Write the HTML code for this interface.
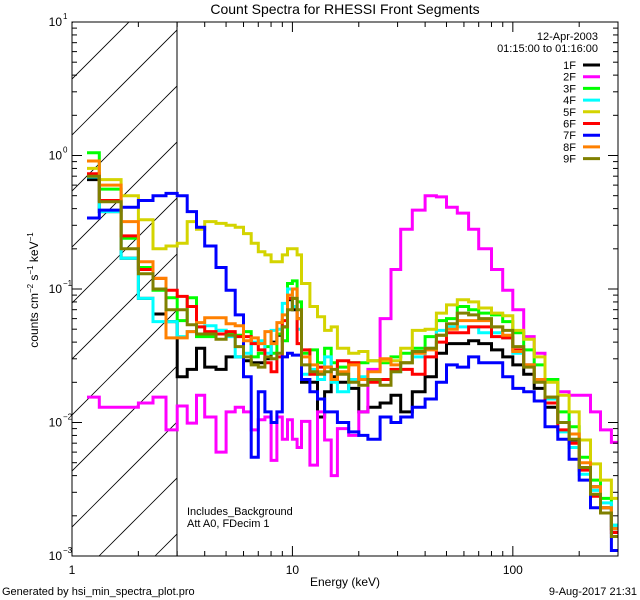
<!DOCTYPE html>
<html><head><meta charset="utf-8"><style>
html,body{margin:0;padding:0;background:#fff;}
svg{display:block;font-family:"Liberation Sans",sans-serif;}
</style></head><body>
<svg id="chart" width="640" height="600" viewBox="0 0 640 600" xmlns="http://www.w3.org/2000/svg">
<defs><clipPath id="hclip"><rect x="72" y="22" width="105" height="534"/></clipPath>
<clipPath id="pclip"><rect x="72" y="22" width="546" height="534"/></clipPath></defs>
<rect width="640" height="600" fill="#fff"/>
<text x="345" y="14" font-size="14" text-anchor="middle">Count Spectra for RHESSI Front Segments</text>
<g id="hatch" clip-path="url(#hclip)"></g>
<line x1="177" y1="22" x2="177" y2="556" stroke="#000" stroke-width="1"/>
<g id="series" clip-path="url(#pclip)"></g>
<rect x="72" y="22" width="546" height="534" fill="none" stroke="#000" stroke-width="1"/>
<g id="axes"></g>
<text x="598" y="40" font-size="11" text-anchor="end">12-Apr-2003</text>
<text x="598" y="52" font-size="11" text-anchor="end">01:15:00 to 01:16:00</text>
<g id="legend"></g>
<text x="187" y="515" font-size="11">Includes_Background</text>
<text x="187" y="527" font-size="11">Att A0, FDecim 1</text>
<text x="345" y="586" font-size="12" text-anchor="middle">Energy (keV)</text>
<text transform="translate(38,290) rotate(-90)" font-size="12" text-anchor="middle">counts cm<tspan font-size="8" dy="-5">−2</tspan><tspan dy="5"> s</tspan><tspan font-size="8" dy="-5">−1</tspan><tspan dy="5"> keV</tspan><tspan font-size="8" dy="-5">−1</tspan></text>
<text x="2" y="595" font-size="11">Generated by hsi_min_spectra_plot.pro</text>
<text x="637" y="595" font-size="11" text-anchor="end">9-Aug-2017 21:31</text>
</svg>
<script>
const edges=[1.17,1.33,1.67,2,2.33,2.67,3,3.33,3.67,4,4.5,5,5.5,6,6.5,7,7.5,8,8.5,9,9.5,10,10.5,11,12,13,14,15,16,18,20,22,25,28,31,35,40,45,50,56,63,70,80,90,100,112,125,140,160,180,200,225,250,280,300];
const seriesNames=["1F","2F","3F","4F","5F","6F","7F","8F","9F"];
const s1F=[0.66,0.38,0.17,0.085,0.065,0.057,0.022,0.025,0.036,0.026,0.025,0.031,0.031,0.029,0.028,0.028,0.03,0.04,0.045,0.052,0.083,0.07,0.06,0.02,0.02,0.011,0.017,0.022,0.02,0.018,0.012,0.013,0.014,0.016,0.012,0.017,0.022,0.033,0.039,0.039,0.041,0.039,0.035,0.031,0.027,0.023,0.018,0.013,0.010,0.0074,0.0046,0.0033,0.0023,0.0016];
const s2F=[0.0155,0.013,0.013,0.014,0.0155,0.0088,0.0133,0.0099,0.016,0.011,0.006,0.012,0.013,0.012,0.0088,0.0105,0.011,0.0052,0.011,0.0075,0.0105,0.0075,0.0065,0.0102,0.0048,0.012,0.0074,0.004,0.009,0.008,0.012,0.025,0.06,0.14,0.28,0.39,0.5,0.49,0.41,0.37,0.28,0.2,0.14,0.098,0.07,0.044,0.033,0.021,0.017,0.016,0.016,0.012,0.0088,0.0071];
const s3F=[1.05,0.56,0.24,0.145,0.098,0.086,0.058,0.086,0.044,0.044,0.049,0.046,0.045,0.048,0.031,0.033,0.037,0.033,0.046,0.041,0.11,0.115,0.08,0.033,0.035,0.028,0.036,0.028,0.026,0.028,0.028,0.029,0.028,0.031,0.033,0.036,0.044,0.058,0.06,0.074,0.07,0.066,0.064,0.057,0.047,0.035,0.027,0.021,0.012,0.0093,0.0055,0.0037,0.0027,0.0017];
const s4F=[0.69,0.38,0.17,0.085,0.057,0.057,0.044,0.048,0.052,0.053,0.049,0.044,0.031,0.033,0.04,0.041,0.033,0.049,0.05,0.078,0.10,0.074,0.05,0.023,0.025,0.021,0.031,0.02,0.017,0.021,0.022,0.021,0.021,0.024,0.028,0.031,0.036,0.049,0.052,0.052,0.052,0.047,0.047,0.043,0.033,0.027,0.021,0.015,0.0085,0.0065,0.0041,0.0031,0.0025,0.0017];
const s5F=[0.8,0.66,0.5,0.33,0.2,0.21,0.22,0.32,0.28,0.32,0.31,0.3,0.29,0.26,0.22,0.19,0.18,0.16,0.16,0.18,0.2,0.2,0.18,0.11,0.074,0.062,0.049,0.052,0.036,0.033,0.034,0.029,0.029,0.029,0.036,0.049,0.05,0.066,0.076,0.083,0.08,0.072,0.066,0.063,0.049,0.042,0.031,0.02,0.016,0.012,0.0074,0.0049,0.0037,0.0027];
const s6F=[0.73,0.46,0.25,0.14,0.12,0.098,0.088,0.074,0.052,0.048,0.046,0.048,0.044,0.044,0.039,0.035,0.028,0.024,0.031,0.058,0.085,0.085,0.039,0.035,0.023,0.026,0.026,0.021,0.029,0.028,0.021,0.02,0.021,0.025,0.025,0.023,0.031,0.04,0.047,0.047,0.052,0.052,0.044,0.043,0.035,0.027,0.021,0.014,0.0088,0.007,0.0044,0.0028,0.0021,0.0015];
const s7F=[0.34,0.39,0.41,0.46,0.5,0.52,0.5,0.38,0.29,0.21,0.145,0.098,0.064,0.022,0.0055,0.017,0.012,0.01,0.012,0.031,0.033,0.032,0.032,0.021,0.017,0.015,0.012,0.012,0.01,0.0085,0.008,0.0075,0.011,0.01,0.011,0.013,0.015,0.02,0.027,0.026,0.031,0.028,0.028,0.022,0.018,0.017,0.0145,0.0093,0.0075,0.0053,0.0037,0.0023,0.0021,0.0011];
const s8F=[0.91,0.6,0.32,0.16,0.12,0.043,0.043,0.048,0.056,0.061,0.061,0.055,0.053,0.041,0.043,0.039,0.048,0.039,0.056,0.064,0.09,0.1,0.06,0.031,0.027,0.024,0.026,0.021,0.024,0.027,0.021,0.024,0.03,0.027,0.028,0.033,0.035,0.045,0.05,0.058,0.058,0.058,0.052,0.045,0.034,0.027,0.021,0.0155,0.01,0.0082,0.005,0.0033,0.0023,0.0016];
const s9F=[0.7,0.45,0.2,0.13,0.1,0.07,0.07,0.054,0.046,0.046,0.042,0.045,0.037,0.031,0.027,0.026,0.031,0.03,0.033,0.052,0.07,0.085,0.07,0.027,0.024,0.023,0.024,0.025,0.023,0.02,0.019,0.021,0.019,0.024,0.028,0.034,0.036,0.045,0.055,0.066,0.064,0.06,0.052,0.049,0.037,0.026,0.02,0.0155,0.01,0.0075,0.0046,0.0029,0.0021,0.0014];
const seriesValues=[s1F,s2F,s3F,s4F,s5F,s6F,s7F,s8F,s9F];
const seriesColors=["#000000","#ff00ff","#00ff00","#00ffff","#d4d400","#ff0000","#0000ff","#ff8000","#808000"];
const xTickLabels=["1","10","100"];
const yTickLabels=["-3","-2","-1","0","1"];

const NS="http://www.w3.org/2000/svg";
const X0=72,X1=618,Y0=556,Y1=22,XMIN=1,XMAX=300,YMIN=-3,YMAX=1;
function xs(e){return X0+(Math.log10(e)-Math.log10(XMIN))/(Math.log10(XMAX)-Math.log10(XMIN))*(X1-X0);}
function ys(v){return Y0-(Math.log10(v)-YMIN)/(YMAX-YMIN)*(Y0-Y1);}
function mk(tag,attrs,parent){const el=document.createElementNS(NS,tag);for(const k in attrs)el.setAttribute(k,attrs[k]);parent.appendChild(el);return el;}

// hatch
const hatch=document.getElementById('hatch');
for(let i=-12;i<12;i++){
  const bx=99+i*56;
  const ln=mk('line',{x1:bx,y1:556,x2:bx+534,y2:22,stroke:'#000','stroke-width':0.8},hatch);
  
  
}

// axes ticks
const axes=document.getElementById('axes');
for(let d=0;d<3;d++){for(let m=1;m<10;m++){
  const e=Math.pow(10,d)*m; if(e>XMAX)break;
  const x=xs(e), L=(m===1)?10:5;
  const t1=mk('line',{x1:x,y1:556,x2:x,y2:556-L,stroke:'#000'},axes);
  
  
  const t2=mk('line',{x1:x,y1:22,x2:x,y2:22+L,stroke:'#000'},axes);
  
  
}}
xTickLabels.forEach(s=>{
  const t=mk('text',{x:xs(parseFloat(s)),y:574,'font-size':12,'text-anchor':'middle'},axes);
  t.textContent=s;
  
  
});
for(let p=YMIN;p<YMAX;p++){for(let m=1;m<10;m++){
  const y=ys(Math.pow(10,p)*m), L=(m===1)?10:5;
  const a=mk('line',{x1:72,y1:y,x2:72+L,y2:y,stroke:'#000'},axes);
  
  
  const b=mk('line',{x1:618,y1:y,x2:618-L,y2:y,stroke:'#000'},axes);
  
  
}}
yTickLabels.forEach(s=>{
  const y=ys(Math.pow(10,parseInt(s)));
  const t=mk('text',{x:62,y:y+4,'font-size':12,'text-anchor':'end'},axes);
  t.textContent='10';
  
  
  const sp=mk('text',{x:63,y:y-3,'font-size':8},axes);
  sp.textContent=s.replace('-','−');
  
  
});

// series
const sg=document.getElementById('series');
seriesValues.forEach((vals,si)=>{
  let d='';
  vals.forEach((v,i)=>{
    const xa=xs(edges[i]),xb=xs(edges[i+1]),y=ys(v);
    d+=(i===0?'M':'L')+xa.toFixed(1)+','+y.toFixed(1)+'L'+xb.toFixed(1)+','+y.toFixed(1);
  });
  const p=mk('path',{d:d,fill:'none',stroke:seriesColors[si],'stroke-width':3,'stroke-linejoin':'miter'},sg);
  
  
});

// legend
const lg=document.getElementById('legend');
seriesNames.forEach((n,i)=>{
  const y=65+i*11.7;
  const t=mk('text',{x:576,y:y+4,'font-size':11,'text-anchor':'end'},lg);
  t.textContent=n;
  
  
  const l=mk('line',{x1:583,y1:y,x2:600,y2:y,stroke:seriesColors[i],'stroke-width':3},lg);
  
  
});
</script>
</body></html>
